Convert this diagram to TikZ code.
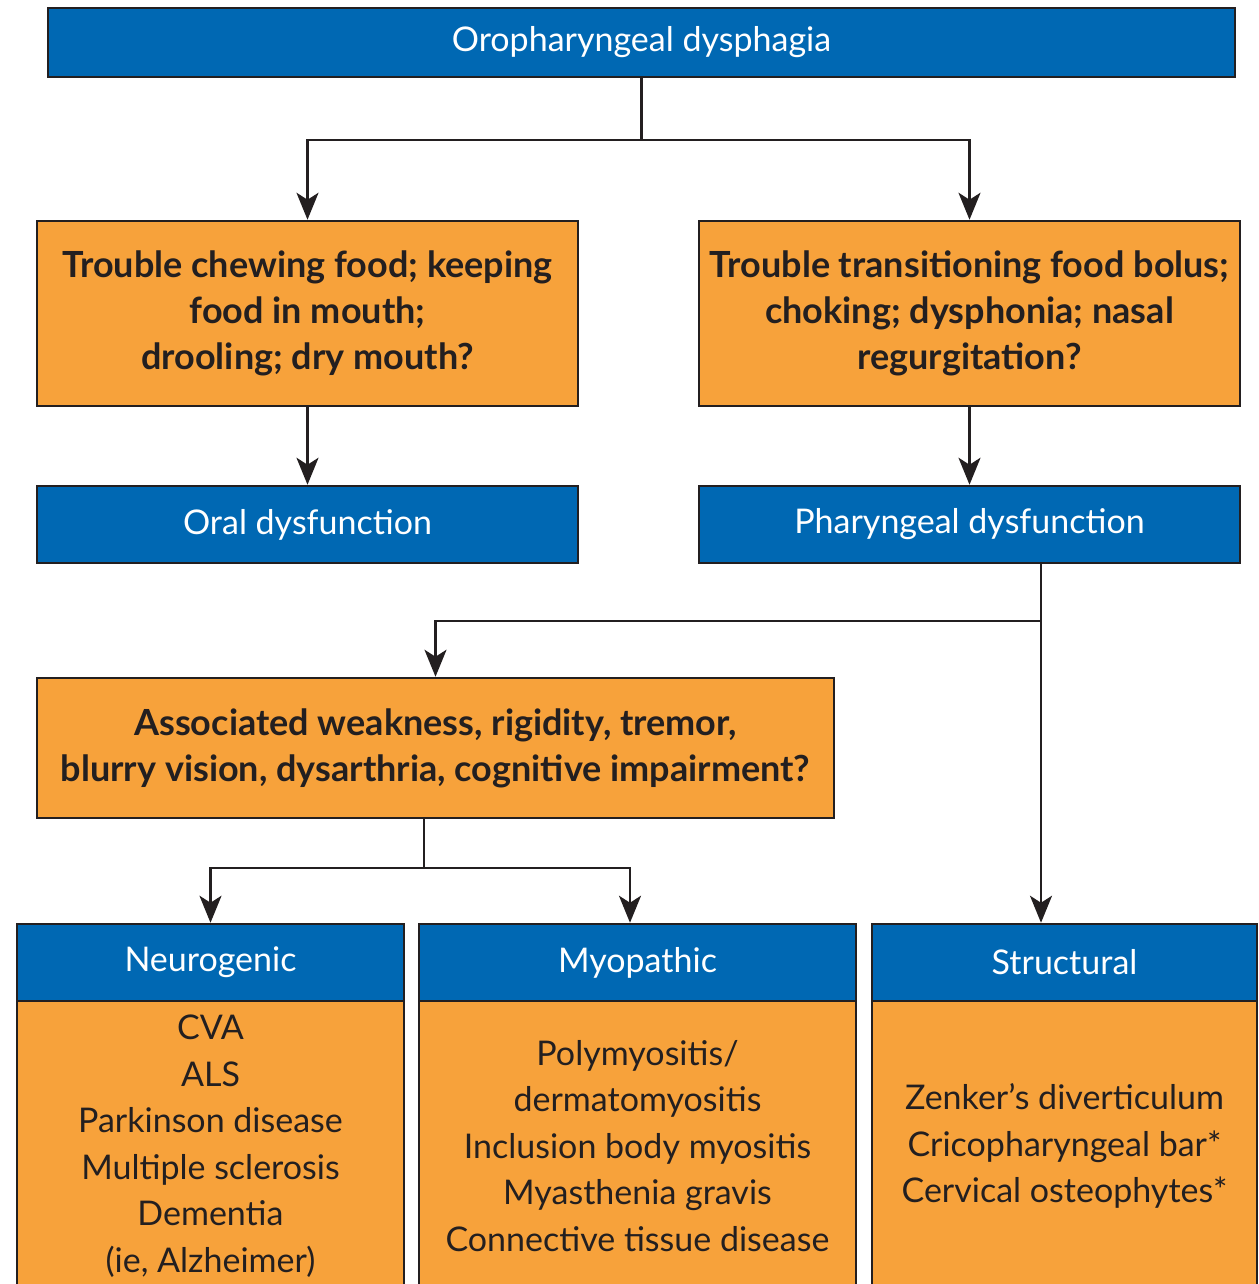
\documentclass[tikz,border=0pt]{standalone}
\usepackage{fontspec}
\setmainfont{Lato}
\usetikzlibrary{arrows.meta}

\definecolor{boxblue}{HTML}{0068B3}
\definecolor{boxorange}{HTML}{F7A23B}
\definecolor{inkdark}{HTML}{231F20}

\begin{document}
\begin{tikzpicture}[x=1pt,y=-1pt,
bluebox/.style={rectangle, draw=inkdark, fill=boxblue, line width=2.5pt, inner sep=0pt, text=white, align=center, font=\fontsize{34}{46}\selectfont},
askbox/.style={rectangle, draw=inkdark, fill=boxorange, line width=2.5pt, inner sep=0pt, text=inkdark, align=center, font=\bfseries\fontsize{36}{46}\selectfont},
listbox/.style={rectangle, draw=inkdark, fill=boxorange, line width=2.5pt, inner sep=0pt},
listtext/.style={text=inkdark, align=center, font=\fontsize{34}{46.5}\selectfont},
arr/.style={draw=inkdark, line width=2.5pt, -{Stealth[length=27pt,width=22pt,inset=7pt]}},
line/.style={draw=inkdark, line width=2.5pt}
]
    \clip (0,0) rectangle (1258,1284);

    \node [bluebox, minimum width=1187, minimum height=69] (a1) at (641.5,42.5) {Oropharyngeal dysphagia};

    \node [askbox, minimum width=541, minimum height=185] (b1) at (307.5,313.5) {Trouble chewing food; keeping\\food in mouth;\\drooling; dry mouth?};
    \node [askbox, minimum width=541, minimum height=185] (b2) at (969.5,313.5) {Trouble transitioning food bolus;\\choking; dysphonia; nasal\\regurgitation?};

    \node [bluebox, minimum width=541, minimum height=77] (c1) at (307.5,524.5) {Oral dysfunction};
    \node [bluebox, minimum width=541, minimum height=77] (c2) at (969.5,524.5) {Pharyngeal dysfunction};

    \node [askbox, minimum width=797, minimum height=140] (d1) at (435.5,748) {Associated weakness, rigidity, tremor,\\blurry vision, dysarthria, cognitive impairment?};

    \node [listbox, minimum width=387, minimum height=320] (f1) at (210.5,1161) {};
    \node [listbox, minimum width=437, minimum height=320] (f2) at (637.5,1161) {};
    \node [listbox, minimum width=385, minimum height=320] (f3) at (1064.5,1161) {};

    \node [bluebox, minimum width=387, minimum height=77] (e1) at (210.5,962.5) {Neurogenic};
    \node [bluebox, minimum width=437, minimum height=77] (e2) at (637.5,962.5) {Myopathic};
    \node [bluebox, minimum width=385, minimum height=77] (e3) at (1064.5,962.5) {Structural};

    \node [listtext] (g1) at (210.5,1146) {CVA\\ALS\\Parkinson disease\\Multiple sclerosis\\Dementia\\(ie, Alzheimer)};
    \node [listtext] (g2) at (637.5,1146) {Polymyositis/\\dermatomyositis\\Inclusion body myositis\\Myasthenia gravis\\Connective tissue disease};
    \node [listtext] (g3) at (1064.5,1146) {Zenker’s diverticulum\\Cricopharyngeal bar*\\Cervical osteophytes*};

    \coordinate (j1) at (641.5,140);
    \coordinate (j2) at (1041,621);
    \coordinate (j3) at (424,868);

    \draw [line] (a1.south) -- (j1);
    \draw [arr] (j1) -| (b1.north);
    \draw [arr] (j1) -| (b2.north);
    \draw [arr] (b1) -- (c1);
    \draw [arr] (b2) -- (c2);

    \draw [arr] (j2 |- c2.south) -- (j2 |- e3.north);
    \draw [arr] (j2) -| (d1.north);

    \draw [line] (j3 |- d1.south) -- (j3);
    \draw [arr] (j3) -| (e1.north);
    \draw [arr] (j3) -| ([xshift=-7.5pt]e2.north);
\end{tikzpicture}
\end{document}
